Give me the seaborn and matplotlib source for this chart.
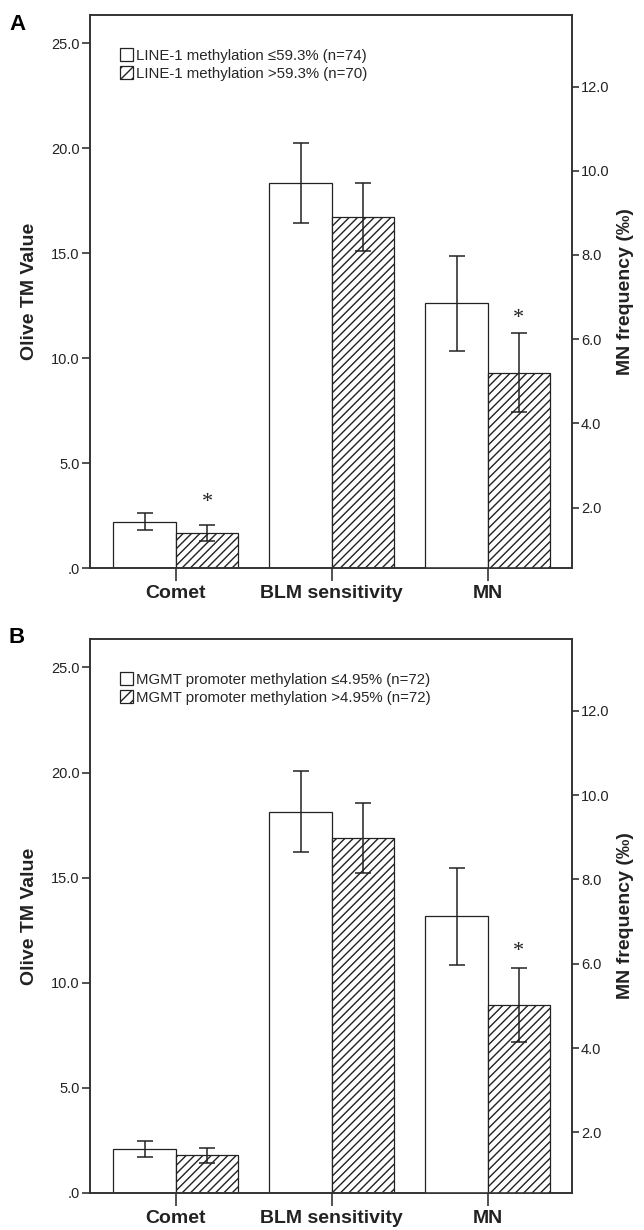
import numpy as np
import pandas as pd
import matplotlib
matplotlib.use("Agg")
import matplotlib.pyplot as plt
import seaborn as sns
from matplotlib.patches import Patch

# ---------------- data ----------------
categories = ["Comet", "BLM sensitivity", "MN"]
groups = ["low", "high"]
right_axis_category = "MN"

# Panel A : LINE-1 methylation
a_low_mean = [2.20, 18.35, 6.85]
a_low_err = [0.40, 1.92, 1.13]
a_high_mean = [1.68, 16.73, 5.20]
a_high_err = [0.38, 1.63, 0.94]
a_labels = ["LINE-1 methylation \u226459.3% (n=74)",
            "LINE-1 methylation >59.3% (n=70)"]
a_star_cats = ["Comet", "MN"]
a_star_y = [3.14, 6.50]

# Panel B : MGMT promoter methylation
b_low_mean = [2.09, 18.13, 7.13]
b_low_err = [0.38, 1.92, 1.15]
b_high_mean = [1.80, 16.88, 5.02]
b_high_err = [0.36, 1.65, 0.87]
b_labels = ["MGMT promoter methylation \u22644.95% (n=72)",
            "MGMT promoter methylation >4.95% (n=72)"]
b_star_cats = ["MN"]
b_star_y = [6.30]

left_ticks = [0, 5, 10, 15, 20, 25]
left_ticklabels = [".0", "5.0", "10.0", "15.0", "20.0", "25.0"]
right_ticks = [2, 4, 6, 8, 10, 12]
right_ticklabels = ["2.0", "4.0", "6.0", "8.0", "10.0", "12.0"]
left_label = "Olive TM Value"
right_label = "MN frequency (\u2030)"
panel_letters = ["A", "B"]

# ---------------- style ----------------
sns.set_style("ticks")
plt.rcParams['font.family'] = ['Liberation Sans', 'DejaVu Sans']
plt.rcParams['hatch.linewidth'] = 1.0
INK = "#222222"
HATCH = "////"

fig = plt.figure(figsize=(6.44, 12.3), dpi=100)
W, H = 644.0, 1230.0
ax_left, ax_right = 90 / W, 572 / W
axA = fig.add_axes([ax_left, 1 - 568 / H, ax_right - ax_left, (568 - 15) / H])
axB = fig.add_axes([ax_left, 1 - 1193 / H, ax_right - ax_left, (1193 - 639) / H])


def draw_panel(ax, low_mean, low_err, high_mean, high_err, labels,
               star_cats, star_y, letter, letter_y):
    df = pd.DataFrame({
        "category": categories * 2,
        "group": [groups[0]] * 3 + [groups[1]] * 3,
        "mean": low_mean + high_mean,
        "err": low_err + high_err,
    })
    ax2 = ax.twinx()
    parts = [(ax, df[df.category != right_axis_category]),
             (ax2, df[df.category == right_axis_category])]
    centers = {}
    for a, d in parts:
        sns.barplot(data=d, x="category", y="mean", hue="group",
                    order=categories, hue_order=groups,
                    palette=["white", "white"], saturation=1,
                    edgecolor=INK, linewidth=0.9, width=0.8,
                    errorbar=None, legend=False, ax=a)
        for container, g in zip(a.containers, groups):
            sub = d[d.group == g].set_index("category")
            xs, ys, es = [], [], []
            for bar in container:
                xc = bar.get_x() + bar.get_width() / 2
                cat = categories[int(round(xc))]
                if cat not in sub.index:
                    continue
                if g == groups[1]:
                    bar.set_hatch(HATCH)
                xs.append(xc)
                ys.append(sub.loc[cat, "mean"])
                es.append(sub.loc[cat, "err"])
                centers[(cat, g)] = xc
            a.errorbar(xs, ys, yerr=es, fmt="none", ecolor=INK,
                       elinewidth=1.1, capsize=5.8, capthick=1.1, zorder=5)

    # asterisks
    for cat, yv in zip(star_cats, star_y):
        a = ax2 if cat == right_axis_category else ax
        a.text(centers[(cat, groups[1])], yv, "*", ha="center", va="center",
               fontsize=16, family="Liberation Serif", color=INK)

    ax.set_xlim(-0.55, 2.54)
    ax.set_ylim(0, 26.35)
    ax2.set_ylim(0.565, 13.7)
    ax.set_yticks(left_ticks)
    ax.set_yticklabels(left_ticklabels)
    ax2.set_yticks(right_ticks)
    ax2.set_yticklabels(right_ticklabels)
    ax.set_xticks(range(len(categories)))
    ax.set_xticklabels(categories)
    ax2.xaxis.set_visible(False)
    ax.set_xlabel("")
    ax2.set_xlabel("")
    ax.set_ylabel(left_label, fontsize=14, fontweight="bold", labelpad=9, color=INK)
    ax2.set_ylabel(right_label, fontsize=14, fontweight="bold", labelpad=5, color=INK)

    for a in (ax, ax2):
        for s in a.spines.values():
            s.set_visible(True)
            s.set_linewidth(1.2)
            s.set_color("#333333")
    ax.tick_params(axis="y", direction="out", length=6, width=1.1, pad=1.5,
                   labelsize=10.5, colors=INK)
    ax2.tick_params(axis="y", direction="out", length=5, width=1.1, pad=1.5,
                    labelsize=10.5, colors=INK)
    ax.tick_params(axis="x", direction="out", length=9.5, width=1.1, pad=3,
                   labelsize=14, colors=INK)
    for lbl in ax.get_xticklabels():
        lbl.set_fontweight("bold")

    handles = [Patch(facecolor="white", edgecolor=INK, linewidth=0.9),
               Patch(facecolor="white", edgecolor=INK, linewidth=0.9, hatch="///")]
    ax.legend(handles, labels, loc="upper left", bbox_to_anchor=(0.062, 0.94),
              frameon=False, fontsize=10.8, handlelength=0.9, handleheight=0.9,
              handletextpad=0.15, labelspacing=0.25, borderpad=0, borderaxespad=0)

    fig.text(17 / W, 1 - letter_y / H, letter, ha="center", va="center",
             fontsize=16, fontweight="bold", color="black")


draw_panel(axA, a_low_mean, a_low_err, a_high_mean, a_high_err, a_labels,
           a_star_cats, a_star_y, panel_letters[0], 25)
draw_panel(axB, b_low_mean, b_low_err, b_high_mean, b_high_err, b_labels,
           b_star_cats, b_star_y, panel_letters[1], 637)

fig.savefig("out.png", dpi=100)
